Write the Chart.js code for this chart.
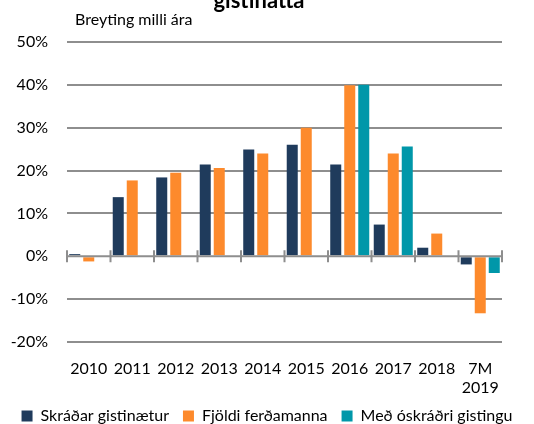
<!DOCTYPE html>
<html>
<head>
<meta charset="utf-8">
<script src="https://cdn.jsdelivr.net/npm/chart.js@4.4.1/dist/chart.umd.min.js"></script>
<style>
  html, body { margin: 0; padding: 0; background: #fff; }
  #wrap { width: 534px; height: 424px; }
</style>
</head>
<body>
<div id="wrap"><canvas id="chart" width="534" height="424"></canvas></div>
<script>
// ── DATA ──────────────────────────────────────────────────────
const years = ['2010', '2011', '2012', '2013', '2014', '2015', '2016', '2017', '2018', ['7M', '2019']];
const gistinaetur = [0.5, 13.8, 18.4, 21.4, 24.9, 26.0, 21.4, 7.4, 2.0, -1.9];
const ferdamenn = [-1.2, 17.7, 19.5, 20.6, 24.0, 30.0, 39.9, 24.0, 5.3, -13.3];
const oskrad = [null, null, null, null, null, null, 40.0, 25.6, null, -3.9];
const yTicks = [-20, -10, 0, 10, 20, 30, 40, 50];

const FONT = 'Lato, "Open Sans", sans-serif';
const GRID = '#8e8e8e';

// ── PLUGINS ───────────────────────────────────────────────────
const headerText = {
    id: 'headerText',
    afterDraw(chart) {
        const ctx = chart.ctx;
        ctx.save();
        ctx.fillStyle = '#000';
        ctx.textBaseline = 'alphabetic';
        ctx.font = 'bold 22px ' + FONT;
        ctx.textAlign = 'center';
        ctx.fillText('gistinátta', 259, 8);
        ctx.font = '16px ' + FONT;
        ctx.textAlign = 'left';
        ctx.fillText('Breyting milli ára', 75, 25);
        ctx.restore();
    }
};

const zeroAxis = {
    id: 'zeroAxis',
    afterDatasetsDraw(chart) {
        const { ctx, chartArea, scales } = chart;
        const y0 = scales.y.getPixelForValue(0);
        const half = (scales.x.getPixelForValue(1) - scales.x.getPixelForValue(0)) / 2;
        ctx.save();
        ctx.strokeStyle = GRID;
        ctx.lineWidth = 2;
        ctx.beginPath();
        ctx.moveTo(chartArea.left, y0);
        ctx.lineTo(chartArea.right, y0);
        for (let i = 0; i <= years.length; i++) {
            const x = scales.x.getPixelForValue(0) - half + i * half * 2;
            ctx.moveTo(x, y0 - 6);
            ctx.lineTo(x, y0 + 6);
        }
        ctx.stroke();
        ctx.restore();
    }
};

// ── CHART ─────────────────────────────────────────────────────
const barOpts = { categoryPercentage: 0.966, barPercentage: 0.786 };

new Chart(document.getElementById('chart'), {
    type: 'bar',
    data: {
        labels: years,
        datasets: [
            { label: 'Skráðar gistinætur', data: gistinaetur, backgroundColor: '#1f3b5c', ...barOpts },
            { label: 'Fjöldi ferðamanna', data: ferdamenn, backgroundColor: '#fd8a2c', ...barOpts },
            { label: 'Með óskráðri gistingu', data: oskrad, backgroundColor: '#0097a9', ...barOpts }
        ]
    },
    options: {
        responsive: false,
        animation: false,
        layout: { padding: { top: 42, right: 0, left: 0, bottom: -10 } },
        plugins: {
            legend: {
                position: 'bottom',
                labels: {
                    boxWidth: 11, boxHeight: 11, padding: 14,
                    color: '#000', font: { family: FONT, size: 16 }
                }
            },
            tooltip: { enabled: false },
            title: { display: false }
        },
        scales: {
            x: {
                afterFit(scale) { scale.height = 52; },
                grid: { display: false },
                border: { display: false },
                ticks: {
                    color: '#000', padding: 9, maxRotation: 0, autoSkip: false,
                    font: { family: FONT, size: 16, lineHeight: 1.2 }
                }
            },
            y: {
                min: -20, max: 50,
                afterFit(scale) { scale.width = 67; },
                afterBuildTicks(scale) { scale.ticks = yTicks.map(v => ({ value: v })); },
                grid: {
                    drawTicks: false, lineWidth: 2,
                    color: ctx => ctx.tick && ctx.tick.value === 0 ? 'rgba(0,0,0,0)' : GRID
                },
                border: { display: false },
                ticks: {
                    color: '#000', padding: 19,
                    font: { family: FONT, size: 16 },
                    callback: v => v + '%'
                }
            },
            // empty right-hand axis, only keeps space to the right of the plot
            yRight: {
                position: 'right',
                afterFit(scale) { scale.width = 32; },
                grid: { display: false },
                border: { display: false },
                ticks: { display: false }
            }
        }
    },
    plugins: [headerText, zeroAxis]
});
</script>
</body>
</html>
